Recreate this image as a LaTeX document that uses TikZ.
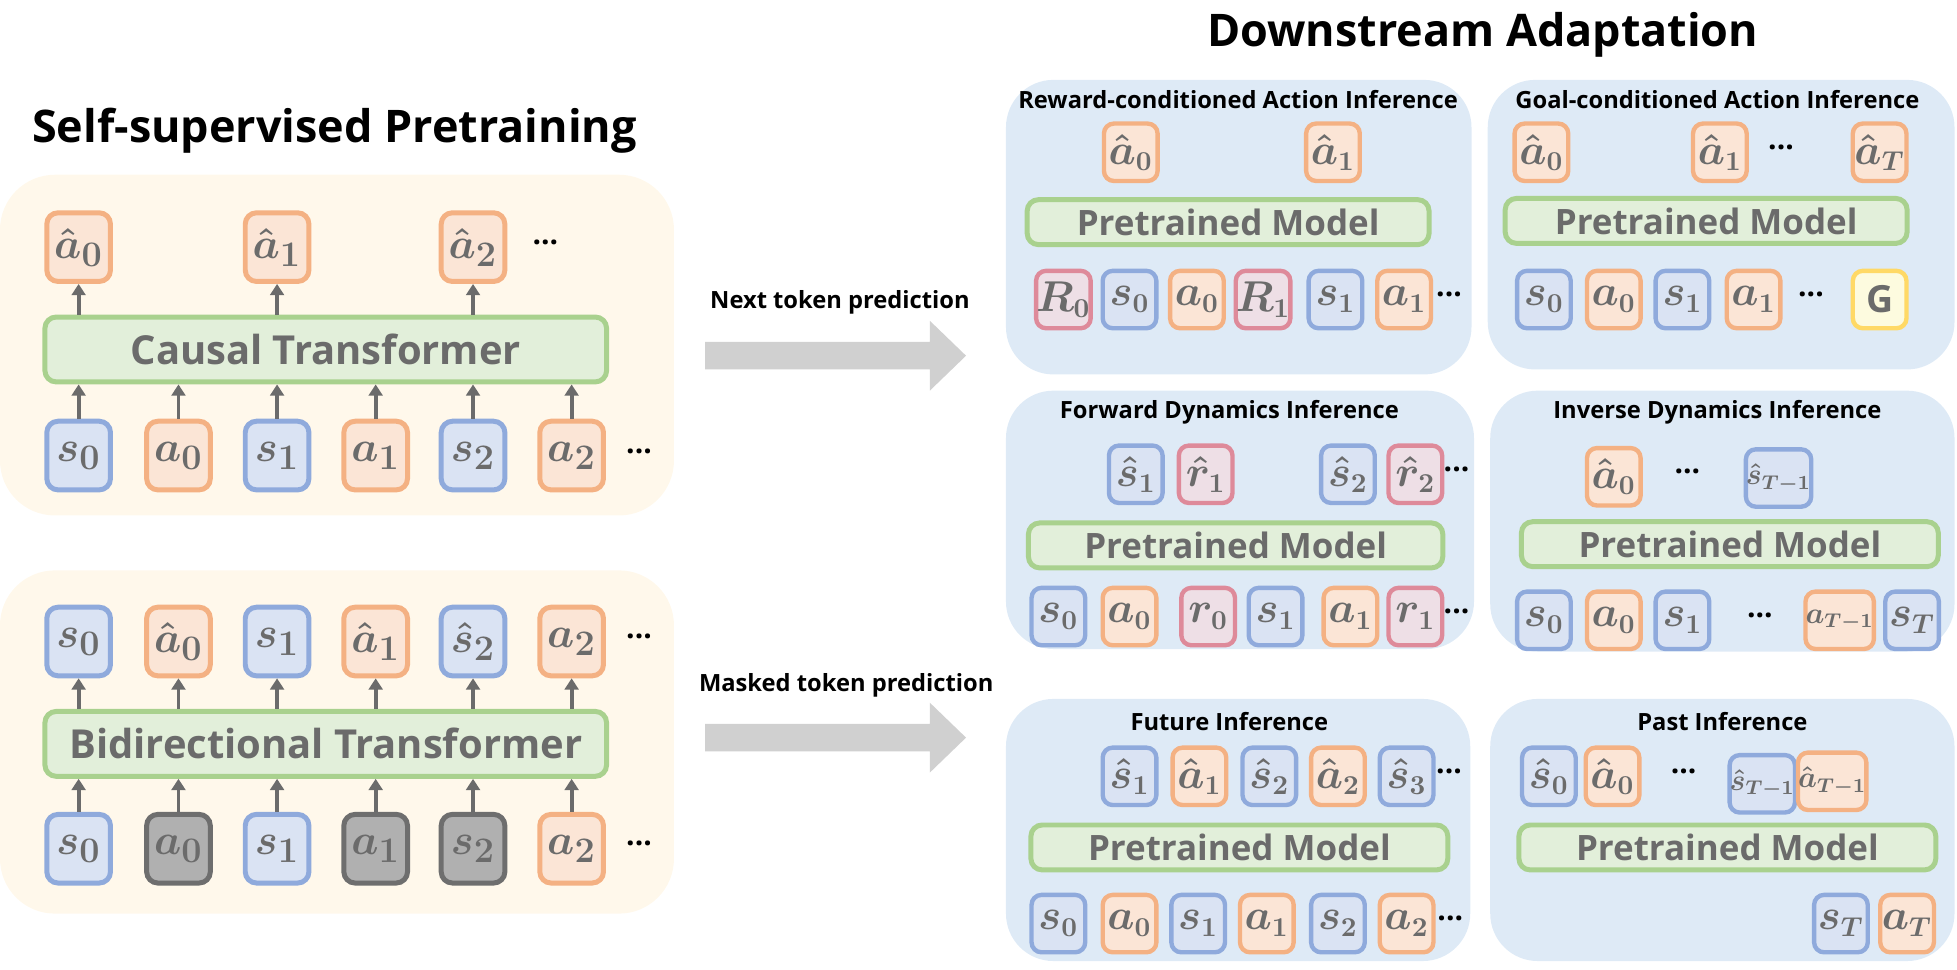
\documentclass[tikz,border=0pt]{standalone}
\usepackage{fontspec}
\setmainfont{Open Sans}
\usetikzlibrary{arrows.meta}
\definecolor{txg}{HTML}{6B6B6B}
\definecolor{bF}{HTML}{DAE3F3}\definecolor{bD}{HTML}{8FAADC}
\definecolor{oF}{HTML}{FBE5D6}\definecolor{oD}{HTML}{F4B183}
\definecolor{rF}{HTML}{EEDFE6}\definecolor{rD}{HTML}{DE8A9A}
\definecolor{gF}{HTML}{E2EFDA}\definecolor{gD}{HTML}{A9D18E}
\definecolor{yF}{HTML}{FDFBDF}\definecolor{yD}{HTML}{FFD966}
\definecolor{kF}{HTML}{B0B0B0}\definecolor{kD}{HTML}{6E6E6E}
\definecolor{cream}{HTML}{FFF8EB}
\definecolor{pblue}{HTML}{DEEAF6}
\definecolor{barrow}{HTML}{D0D0D0}
\tikzset{
 tokbase/.style={draw, line width=2pt, rounded corners=4.5pt, inner sep=0pt, text=txg, font=\fontsize{19}{19}\selectfont\boldmath},
 big/.style={tokbase, minimum width=25.5pt, minimum height=27.5pt},
 sm/.style={tokbase, minimum width=21.5pt, minimum height=23pt, font=\fontsize{16}{16}\selectfont\boldmath, line width=1.75pt, rounded corners=4pt},
 B/.style={fill=bF, draw=bD}, O/.style={fill=oF, draw=oD}, R/.style={fill=rF, draw=rD},
 Y/.style={fill=yF, draw=yD}, K/.style={fill=kF, draw=kD},
 model/.style={draw=gD, fill=gF, line width=2pt, rounded corners=4.5pt, text=txg, font=\fontsize{14}{14}\selectfont\bfseries},
 panel/.style={fill=pblue, rounded corners=19pt},
 ptitle/.style={font=\fontsize{9.5}{9.5}\selectfont\bfseries},
 dots/.style={font=\fontsize{12}{12}\selectfont\bfseries},
 arr/.style={draw=txg, line width=1.5pt, -{Triangle[length=4.5pt,width=5.5pt]}},
 small/.style={font=\fontsize{12}{12}\selectfont\boldmath},
}
\newcommand\tk[4][]{\node[#1] (#2) at (#3) {$#4$};}
\begin{document}
\begin{tikzpicture}[x=0.5pt,y=-0.5pt]
\useasboundingbox (0,0) rectangle (1568,777);
% titles
\node[font=\fontsize{18}{18}\selectfont\bfseries] (t1) at (268,105) {Self-supervised Pretraining};
\node[font=\fontsize{18}{18}\selectfont\bfseries] (t2) at (1188,28) {Downstream Adaptation};
% left panels
\fill[cream, rounded corners=22pt] (0,140) rectangle (540,413);
\fill[cream, rounded corners=22pt] (0,457) rectangle (540,732);
% causal
\node[model, minimum width=225pt, minimum height=26pt, font=\fontsize{16}{16}\selectfont\bfseries] (ct) at (261,280) {Causal Transformer};
\foreach \n/\x/\s/\c in {i1/63/B/s_0, i2/143/O/a_0, i3/222/B/s_1, i4/301/O/a_1, i5/379/B/s_2, i6/458/O/a_2}{
  \tk[big,\s]{\n}{\x,365}{\c}
  \draw[arr] (\n.north) -- (\n.north |- ct.south);
}
\node[dots] (d1) at (512,362) {...};
\foreach \n/\x/\c in {o1/63/\hat{a}_0, o2/222/\hat{a}_1, o3/379/\hat{a}_2}{
  \tk[big,O]{\n}{\x,198}{\c}
  \draw[arr] (\n.south |- ct.north) -- (\n.south);
}
\node[dots] (d2) at (437,194) {...};
% bidirectional
\node[model, minimum width=225pt, minimum height=26pt, font=\fontsize{16}{16}\selectfont\bfseries] (bt) at (261,596) {Bidirectional Transformer};
\foreach \n/\x/\s/\c in {j1/63/B/s_0, j2/143/K/a_0, j3/222/B/s_1, j4/301/K/a_1, j5/379/K/s_2, j6/458/O/a_2}{
  \tk[big,\s]{\n}{\x,680}{\c}
  \draw[arr] (\n.north) -- (\n.north |- bt.south);
}
\node[dots] (d3) at (512,676) {...};
\foreach \n/\x/\s/\c in {p1/63/B/s_0, p2/143/O/\hat{a}_0, p3/222/B/s_1, p4/301/O/\hat{a}_1, p5/379/B/\hat{s}_2, p6/458/O/a_2}{
  \tk[big,\s]{\n}{\x,514}{\c}
  \draw[arr] (\n.south |- bt.north) -- (\n.south);
}
\node[dots] (d4) at (512,510) {...};
% big arrows
\fill[barrow] (565,274) -- (745,274) -- (745,257) -- (774,285) -- (745,313) -- (745,296) -- (565,296) -- cycle;
\fill[barrow] (565,580) -- (745,580) -- (745,563) -- (774,591) -- (745,619) -- (745,602) -- (565,602) -- cycle;
\node[font=\fontsize{9.5}{9.5}\selectfont\bfseries] (l1) at (673,242) {Next token prediction};
\node[font=\fontsize{9.5}{9.5}\selectfont\bfseries] (l2) at (678,549) {Masked token prediction};
% P1
\fill[panel] (806,64) rectangle (1179,300);
\node[ptitle] (h1) at (992,80) {Reward-conditioned Action Inference};
\tk[sm,O]{a1o0}{906,122}{\hat{a}_0}
\tk[sm,O]{a1o1}{1068,122}{\hat{a}_1}
\node[model, minimum width=161pt, minimum height=18pt] (m1) at (984,178) {Pretrained Model};
\foreach \n/\x/\s/\c in {q1/852/R/R_0, q2/905/B/s_0, q3/959/O/a_0, q4/1012/R/R_1, q5/1070/B/s_1, q6/1125/O/a_1}{\tk[sm,\s]{\n}{\x,240}{\c}}
\node[dots] (e1) at (1161,236) {...};
% P2
\fill[panel] (1192,64) rectangle (1566,296);
\node[ptitle] (h2) at (1376,80) {Goal-conditioned Action Inference};
\tk[sm,O]{b2o0}{1235,122}{\hat{a}_0}
\tk[sm,O]{b2o1}{1378,122}{\hat{a}_1}
\node[dots] (e2) at (1427,118) {...};
\tk[sm,O]{b2o2}{1506,122}{\hat{a}_T}
\node[model, minimum width=161pt, minimum height=18pt] (m2) at (1367,177) {Pretrained Model};
\foreach \n/\x/\s/\c in {u1/1237/B/s_0, u2/1293/O/a_0, u3/1348/B/s_1, u4/1405/O/a_1}{\tk[sm,\s]{\n}{\x,240}{\c}}
\node[dots] (e3) at (1451,236) {...};
\node[sm,Y,font=\fontsize{15}{15}\selectfont\bfseries] (u5) at (1506,240) {G};
% P3
\fill[panel] (806,313) rectangle (1181,520);
\node[ptitle] (h3) at (985,330) {Forward Dynamics Inference};
\foreach \n/\x/\s/\c in {v1/910/B/\hat{s}_1, v2/966/R/\hat{r}_1, v3/1080/B/\hat{s}_2, v4/1134/R/\hat{r}_2}{\tk[sm,\s]{\n}{\x,380}{\c}}
\node[dots] (e4) at (1167,376) {...};
\node[model, minimum width=166pt, minimum height=18pt] (m3) at (990,437) {Pretrained Model};
\foreach \n/\x/\s/\c in {w1/848/B/s_0, w2/905/O/a_0, w3/968/R/r_0, w4/1022/B/s_1, w5/1082/O/a_1, w6/1134/R/r_1}{\tk[sm,\s]{\n}{\x,494}{\c}}
\node[dots] (e5) at (1167,490) {...};
% P4
\fill[panel] (1194,313) rectangle (1566,522);
\node[ptitle] (h4) at (1376,330) {Inverse Dynamics Inference};
\tk[sm,O]{x1}{1293,382}{\hat{a}_0}
\node[dots] (e6) at (1352,378) {...};
\node[sm,B,small] (x2) at (1425,383) {$\hat{s}_{T-1}$};
\node[model, minimum width=167pt, minimum height=18pt] (m4) at (1386,436) {Pretrained Model};
\foreach \n/\x/\s/\c in {y1/1237/B/s_0, y2/1293/O/a_0, y3/1348/B/s_1}{\tk[sm,\s]{\n}{\x,497}{\c}}
\node[dots] (e7) at (1410,493) {...};
\node[sm,O,small] (y4) at (1474,497) {$a_{T-1}$};
\tk[sm,B]{y5}{1532,497}{s_T}
% P5
\fill[panel] (806,560) rectangle (1178,770);
\node[ptitle] (h5) at (985,578) {Future Inference};
\foreach \n/\x/\s/\c in {z1/905/B/\hat{s}_1, z2/961/O/\hat{a}_1, z3/1017/B/\hat{s}_2, z4/1072/O/\hat{a}_2, z5/1127/B/\hat{s}_3}{\tk[sm,\s]{\n}{\x,622}{\c}}
\node[dots] (e8) at (1161,618) {...};
\node[model, minimum width=167pt, minimum height=18pt] (m5) at (993,679) {Pretrained Model};
\foreach \n/\x/\s/\c in {g1/848/B/s_0, g2/905/O/a_0, g3/960/B/s_1, g4/1015/O/a_1, g5/1072/B/s_2, g6/1127/O/a_2}{\tk[sm,\s]{\n}{\x,740}{\c}}
\node[dots] (e9) at (1162,736) {...};
% P6
\fill[panel] (1194,560) rectangle (1566,770);
\node[ptitle] (h6) at (1380,578) {Past Inference};
\tk[sm,B]{k1}{1241,622}{\hat{s}_0}
\tk[sm,O]{k2}{1292,622}{\hat{a}_0}
\node[dots] (e10) at (1349,618) {...};
\node[sm,B,small] (k3) at (1412,628) {$\hat{s}_{T-1}$};
\node[sm,O,small] (k4) at (1468,626) {$\hat{a}_{T-1}$};
\node[model, minimum width=167pt, minimum height=18pt] (m6) at (1384,679) {Pretrained Model};
\tk[sm,B]{k5}{1475,740}{s_T}
\tk[sm,O]{k6}{1528,740}{a_T}
\end{tikzpicture}
\end{document}
